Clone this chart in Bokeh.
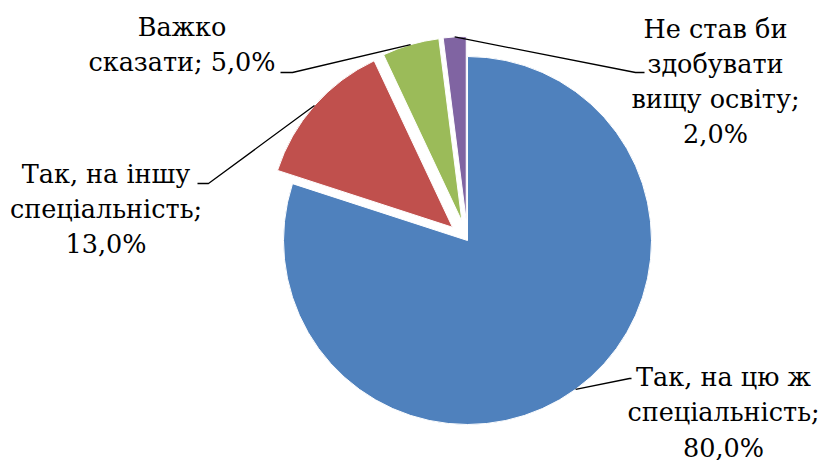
import math
from bokeh.plotting import figure
from bokeh.models import ColumnDataSource
from bokeh.core.properties import value
from bokeh.embed import file_html
from bokeh.resources import INLINE

# ---- data ----
categories = ["Так, на цю ж спеціальність", "Так, на іншу спеціальність",
              "Важко сказати", "Не став би здобувати вищу освіту"]
shares = [80.0, 13.0, 5.0, 2.0]
label_texts = ["Так, на цю ж\nспеціальність;\n80,0%",
               "Так, на іншу\nспеціальність;\n13,0%",
               "Важко\nсказати; 5,0%",
               "Не став би\nздобувати\nвищу освіту;\n2,0%"]

# ---- style / layout ----
colors = ["#4F81BD", "#C0504D", "#9BBB59", "#8064A2"]
explode = [0, 20, 20, 20]           # px
W, H = 820, 460
cx, cy, R = 467, 220, 184
label_pos = [(723, 48), (105.5, 251.5), (181.5, 416), (715, 379)]
elbows = [[(629, 82), (631, 82)],
          [(208, 277), (197, 277)],
          [(292, 388), (280, 388)],
          [(635, 388), (644, 388)]]

total = sum(shares)
starts, ends, xs, ys, mids = [], [], [], [], []
c = 0.0
for s, e in zip(shares, explode):
    a0 = math.pi / 2 - 2 * math.pi * c / total
    c += s
    a1 = math.pi / 2 - 2 * math.pi * c / total
    m = (a0 + a1) / 2
    starts.append(a0)
    ends.append(a1)
    xs.append(cx + e * math.cos(m))
    ys.append(cy + e * math.sin(m))
    mids.append(m)

src = ColumnDataSource(dict(x=xs, y=ys, start=starts, end=ends, color=colors,
                            cat=categories))

p = figure(width=W, height=H, x_range=(0, W), y_range=(0, H),
           output_backend="svg", toolbar_location=None, min_border=0)
p.axis.visible = False
p.grid.visible = False
p.outline_line_color = None
p.background_fill_color = "white"

p.wedge(x="x", y="y", radius=R, start_angle="start", end_angle="end",
        direction="clock", fill_color="color", line_color="white",
        line_width=1, source=src)

for i in range(len(shares)):
    ox = xs[i] + R * math.cos(mids[i])
    oy = ys[i] + R * math.sin(mids[i])
    lx = [ox] + [pt[0] for pt in elbows[i]]
    ly = [oy] + [pt[1] for pt in elbows[i]]
    p.line(lx, ly, line_color="black", line_width=1.3)

tsrc = ColumnDataSource(dict(x=[lp[0] for lp in label_pos],
                             y=[lp[1] for lp in label_pos],
                             t=label_texts))
p.text(x="x", y="y", text="t", source=tsrc, text_align="center",
       text_baseline="middle", text_font=value("DejaVu Serif"),
       text_font_size="25.5px", text_color="black", text_line_height=1.167)

open("out.html", "w").write(file_html(p, INLINE))
